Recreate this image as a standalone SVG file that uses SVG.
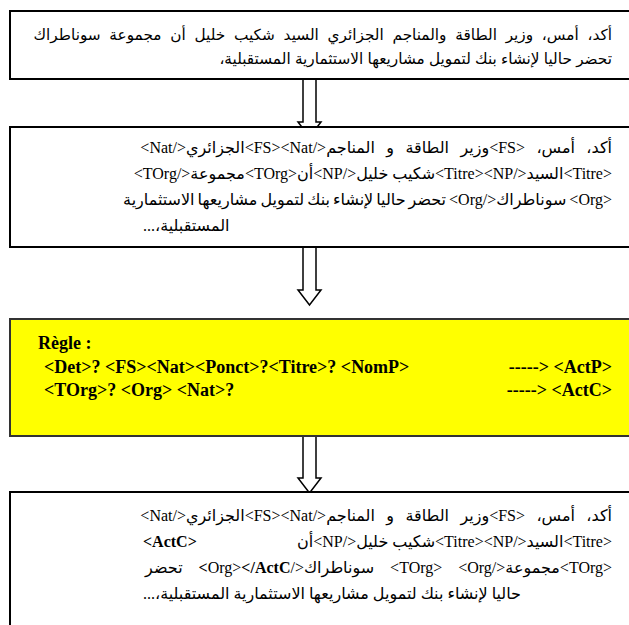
<svg xmlns="http://www.w3.org/2000/svg" width="629" height="625" viewBox="0 0 629 625">
  <style>
    .box { fill: #ffffff; stroke: #000000; stroke-width: 2; }
    .rule { fill: #ffff00; stroke: #333333; stroke-width: 2; }
    .arrow { fill: #ffffff; stroke: #000000; stroke-width: 1.5; stroke-linejoin: miter; }
    .src { font-family: "Liberation Sans", "DejaVu Sans", sans-serif; font-size: 15.3px; fill: #000000; }
    .ar { font-family: "Liberation Serif", "DejaVu Sans", serif; font-size: 16px; fill: #000000; }
    .rl { font-family: "Liberation Serif", serif; font-size: 18px; font-weight: bold; fill: #000000; }
    .b { font-weight: bold; }
  </style>

  <!-- block arrows between the stages -->
  <g id="connectors">
    <path class="arrow" d="M303,79 V122 H298 L309.5,137 L321,122 H316 V79 Z"/>
    <path class="arrow" d="M303,247 V290 H298 L309.5,305 L321,290 H316 V247 Z"/>
    <path class="arrow" d="M303,436 V478 H298 L309.5,493 L321,478 H316 V436 Z"/>
  </g>

  <!-- raw sentence -->
  <g id="source-text">
    <rect class="box" x="10" y="11" width="640" height="68"/>
    <text class="src" direction="rtl" x="612" y="40" word-spacing="4.5">أكد، أمس، وزير الطاقة والمناجم الجزائري السيد شكيب خليل أن مجموعة سوناطراك</text>
    <text class="src" direction="rtl" x="612" y="64">تحضر حاليا لإنشاء بنك لتمويل مشاريعها الاستثمارية المستقبلية،</text>
  </g>

  <!-- sentence after tagging (justified lines, last line on the left) -->
  <g id="tagged-text">
    <rect class="box" x="10" y="127" width="640" height="120"/>
    <text class="ar" direction="rtl" x="612" y="153" word-spacing="7.4">أكد، أمس، &lt;FS&gt;وزير الطاقة و المناجم&lt;/FS&gt;&lt;Nat&gt;الجزائري&lt;/Nat&gt;</text>
    <text class="ar" direction="rtl" x="612" y="179">&lt;Titre&gt;السيد&lt;/Titre&gt;&lt;NP&gt;شكيب خليل&lt;/NP&gt;أن&lt;TOrg&gt;مجموعة&lt;/TOrg&gt;</text>
    <text class="ar" direction="rtl" x="612" y="205" word-spacing="-1">&lt;Org&gt; سوناطراك&lt;/Org&gt; تحضر حاليا لإنشاء بنك لتمويل مشاريعها الاستثمارية</text>
    <text class="ar" direction="rtl" x="143" y="231" text-anchor="end">المستقبلية،...</text>
  </g>

  <!-- extraction rule -->
  <g id="rule">
    <rect class="rule" x="10" y="319" width="640" height="117"/>
    <text class="rl" x="38" y="349">Règle :</text>
    <text class="rl" x="44" y="373">&lt;Det&gt;? &lt;FS&gt;&lt;Nat&gt;&lt;Ponct&gt;?&lt;Titre&gt;? &lt;NomP&gt;</text>
    <text class="rl" x="612" y="373" text-anchor="end">-----&gt; &lt;ActP&gt;</text>
    <text class="rl" x="44" y="396">&lt;TOrg&gt;? &lt;Org&gt; &lt;Nat&gt;?</text>
    <text class="rl" x="612" y="396" text-anchor="end">-----&gt; &lt;ActC&gt;</text>
  </g>

  <!-- sentence after applying the rule -->
  <g id="annotated-text">
    <rect class="box" x="10" y="492" width="640" height="150"/>
    <text class="ar" direction="rtl" x="612" y="521" word-spacing="7.4">أكد، أمس، &lt;FS&gt;وزير الطاقة و المناجم&lt;/FS&gt;&lt;Nat&gt;الجزائري&lt;/Nat&gt;</text>
    <text class="ar" direction="rtl" x="612" y="547">&lt;Titre&gt;السيد&lt;/Titre&gt;&lt;NP&gt;شكيب خليل&lt;/NP&gt;أن</text>
    <text class="ar b" x="143" y="547">&lt;ActC&gt;</text>
    <text class="ar" direction="rtl" x="612" y="573" word-spacing="12">&lt;TOrg&gt;مجموعة&lt;/TOrg&gt; &lt;Org&gt; سوناطراك&lt;/Org&gt;<tspan class="b">&lt;/ActC&gt;</tspan> تحضر</text>
    <text class="ar" direction="rtl" x="143" y="599" text-anchor="end">حاليا لإنشاء بنك لتمويل مشاريعها الاستثمارية المستقبلية،...</text>
  </g>
</svg>
